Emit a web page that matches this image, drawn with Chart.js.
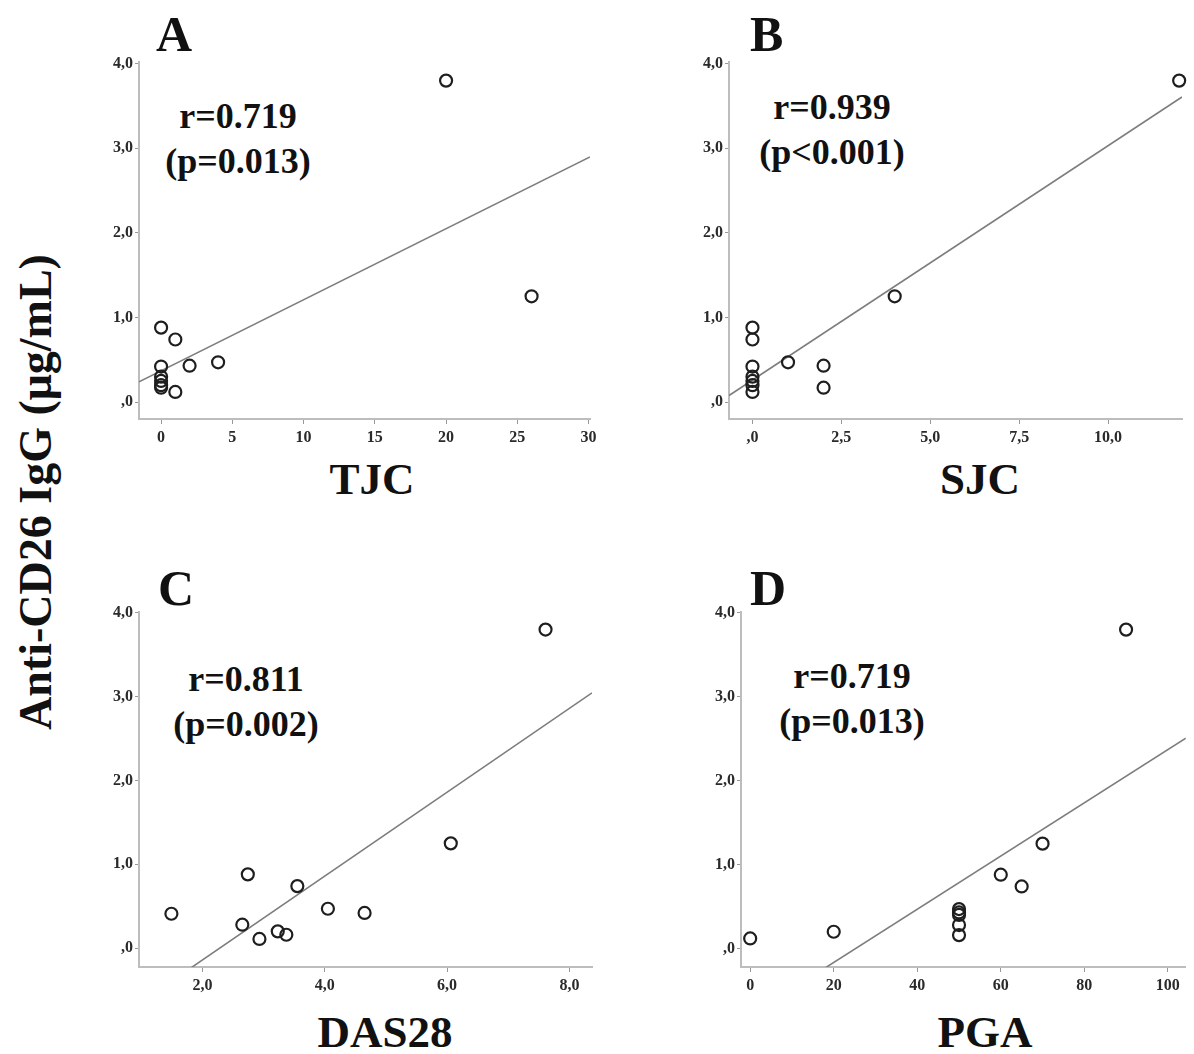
<!DOCTYPE html>
<html>
<head>
<meta charset="utf-8">
<script src="https://cdn.jsdelivr.net/npm/chart.js@4.4.1/dist/chart.umd.min.js"></script>
<style>
  html, body { margin: 0; padding: 0; background: #fff; }
  #wrap { position: relative; width: 1194px; height: 1054px; background: #fff; overflow: hidden;
          font-family: "Liberation Serif", "Times New Roman", serif; color: #111; }
  canvas { position: absolute; }
  .t { position: absolute; font-weight: bold; white-space: nowrap; }
  .ann { position: absolute; width: 300px; text-align: center; font-weight: bold; font-size: 36px; line-height: 45px; }
</style>
</head>
<body>
<div id="wrap">
  <div class="t" id="ytitle" style="left:36px; top:492px; font-size:46px; line-height:46px; transform: translate(-50%,-50%) rotate(-90deg);">Anti-CD26 IgG (μg/mL)</div>

  <div class="t" style="left:156px; top:9px; font-size:50px; line-height:50px;">A</div>
  <div class="t" style="left:750px; top:9px; font-size:50px; line-height:50px;">B</div>
  <div class="t" style="left:158px; top:563px; font-size:50px; line-height:50px;">C</div>
  <div class="t" style="left:750px; top:563px; font-size:50px; line-height:50px;">D</div>

  <div class="ann" style="left:88px; top:94px;">r=0.719<br>(p=0.013)</div>
  <div class="ann" style="left:682px; top:85px;">r=0.939<br>(p&lt;0.001)</div>
  <div class="ann" style="left:96px; top:657px;">r=0.811<br>(p=0.002)</div>
  <div class="ann" style="left:702px; top:654px;">r=0.719<br>(p=0.013)</div>

  <div class="t" style="left:222px; width:300px; text-align:center; top:457px; font-size:45px; line-height:45px;">TJC</div>
  <div class="t" style="left:830px; width:300px; text-align:center; top:457px; font-size:45px; line-height:45px;">SJC</div>
  <div class="t" style="left:235px; width:300px; text-align:center; top:1010px; font-size:45px; line-height:45px;">DAS28</div>
  <div class="t" style="left:835px; width:300px; text-align:center; top:1010px; font-size:45px; line-height:45px;">PGA</div>
</div>
<script>
// ---------- data ----------
const tjcX = [0, 0, 0, 0, 0, 0, 1, 1, 2, 4, 20, 26];
const tjcY = [0.88, 0.42, 0.30, 0.25, 0.20, 0.17, 0.74, 0.12, 0.43, 0.47, 3.80, 1.25];

const sjcX = [0, 0, 0, 0, 0, 0, 0, 1, 2, 2, 4, 12];
const sjcY = [0.88, 0.74, 0.42, 0.30, 0.25, 0.20, 0.12, 0.47, 0.43, 0.17, 1.25, 3.80];

const dasX = [1.49, 2.65, 2.74, 2.93, 3.23, 3.37, 3.55, 4.05, 4.65, 6.06, 7.61];
const dasY = [0.41, 0.28, 0.88, 0.11, 0.20, 0.16, 0.74, 0.47, 0.42, 1.25, 3.80];

const pgaX = [0, 20, 50, 50, 50, 50, 50, 60, 65, 70, 90];
const pgaY = [0.12, 0.20, 0.47, 0.43, 0.40, 0.28, 0.16, 0.88, 0.74, 1.25, 3.80];

// fitted regression lines (intercept, slope) per panel A, B, C, D
const fitIntercept = [0.37, 0.26, -1.14, -0.80];
const fitSlope = [0.084, 0.277, 0.50, 0.0317];

// axis tick values and labels
const yTickValues = [0, 1, 2, 3, 4];
const yTickLabels = [",0", "1,0", "2,0", "3,0", "4,0"];
const tjcTickValues = [0, 5, 10, 15, 20, 25, 30];
const tjcTickLabels = ["0", "5", "10", "15", "20", "25", "30"];
const sjcTickValues = [0, 2.5, 5, 7.5, 10];
const sjcTickLabels = [",0", "2,5", "5,0", "7,5", "10,0"];
const dasTickValues = [2, 4, 6, 8];
const dasTickLabels = ["2,0", "4,0", "6,0", "8,0"];
const pgaTickValues = [0, 20, 40, 60, 80, 100];
const pgaTickLabels = ["0", "20", "40", "60", "80", "100"];

// axis ranges
const xRanges = [[-1.55, 30.1], [-0.66, 12.08], [0.96, 8.37], [-2.2, 104.3]];
const yRanges = [[-0.2, 4.02], [-0.2, 4.02], [-0.225, 4.01], [-0.22, 4.01]];

// ---------- layout (chart area in page pixels) ----------
const areas = [
  {L: 139, R: 590, T: 62, B: 419, padR: 10},
  {L: 729, R: 1182, T: 62, B: 419, padR: 10},
  {L: 139, R: 592, T: 612, B: 967, padR: 10},
  {L: 741, R: 1192, T: 612, B: 967, padR: 2}
];
const Y_W = 60, X_H = 45, PAD_T = 12;

const panels = [
  {x: tjcX, y: tjcY, tv: tjcTickValues, tl: tjcTickLabels},
  {x: sjcX, y: sjcY, tv: sjcTickValues, tl: sjcTickLabels},
  {x: dasX, y: dasY, tv: dasTickValues, tl: dasTickLabels},
  {x: pgaX, y: pgaY, tv: pgaTickValues, tl: pgaTickLabels}
];

const wrap = document.getElementById('wrap');
const tickFont = {family: '"Liberation Serif", "Times New Roman", serif', size: 16, weight: 'bold'};

panels.forEach((p, i) => {
  const a = areas[i];
  const c = document.createElement('canvas');
  const w = (a.R - a.L) + Y_W + a.padR;
  const h = (a.B - a.T) + PAD_T + X_H;
  c.width = w; c.height = h;
  c.style.left = (a.L - Y_W) + 'px';
  c.style.top = (a.T - PAD_T) + 'px';
  c.style.width = w + 'px'; c.style.height = h + 'px';
  wrap.appendChild(c);

  const pts = p.x.map((v, k) => ({x: v, y: p.y[k]}));
  const [x0, x1] = xRanges[i];
  const line = [x0, x1].map(v => ({x: v, y: fitIntercept[i] + fitSlope[i] * v}));

  new Chart(c, {
    type: 'scatter',
    data: {
      datasets: [
        {data: line, showLine: true, pointRadius: 0, borderColor: '#7d7d7d', borderWidth: 1.6, order: 2},
        {data: pts, pointRadius: 6, pointStyle: 'circle', borderWidth: 2.2, borderColor: '#1e1e1e',
         backgroundColor: 'rgba(0,0,0,0)', clip: false, order: 1}
      ]
    },
    options: {
      responsive: false,
      animation: false,
      events: [],
      layout: {padding: {top: PAD_T, right: a.padR, left: 0, bottom: 0}},
      plugins: {legend: {display: false}, tooltip: {enabled: false}},
      scales: {
        x: {
          type: 'linear', min: x0, max: x1,
          border: {display: true, color: '#bdbdbd', width: 2},
          grid: {display: true, drawOnChartArea: false, drawTicks: true, tickLength: 5, color: '#999', lineWidth: 1},
          ticks: {autoSkip: false, maxRotation: 0, padding: 4, color: '#2a2a2a', font: tickFont,
                  callback: (v, k) => p.tl[k]},
          afterBuildTicks: s => { s.ticks = p.tv.map(v => ({value: v})); },
          afterFit: s => { s.height = X_H; s.paddingLeft = 0; s.paddingRight = 0; s.paddingTop = 0; s.paddingBottom = 0; }
        },
        y: {
          type: 'linear', min: yRanges[i][0], max: yRanges[i][1],
          border: {display: true, color: '#bdbdbd', width: 2},
          grid: {display: true, drawOnChartArea: false, drawTicks: true, tickLength: 4, color: '#999', lineWidth: 1},
          ticks: {autoSkip: false, padding: 2, color: '#2a2a2a', font: tickFont,
                  callback: (v, k) => yTickLabels[k]},
          afterBuildTicks: s => { s.ticks = yTickValues.map(v => ({value: v})); },
          afterFit: s => { s.width = Y_W; s.paddingLeft = 0; s.paddingRight = 0; s.paddingTop = 0; s.paddingBottom = 0; }
        }
      }
    }
  });
});
</script>
</body>
</html>
